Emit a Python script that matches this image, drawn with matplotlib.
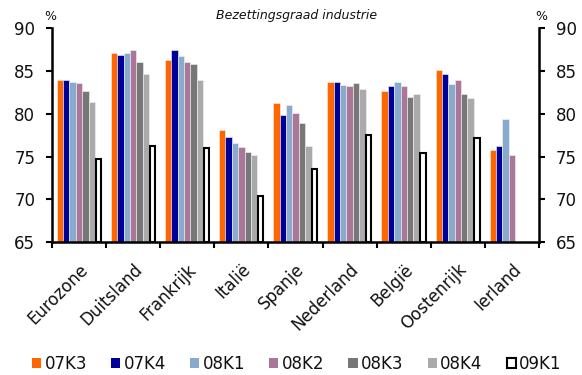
import matplotlib
matplotlib.use("Agg")
import matplotlib.pyplot as plt
import numpy as np
from matplotlib.patches import Patch

plt.rcParams['font.family'] = ['DejaVu Sans']

countries = ["Eurozone", "Duitsland", "Frankrijk", "Italië", "Spanje",
             "Nederland", "België", "Oostenrijk", "Ierland"]
periods = ["07K3", "07K4", "08K1", "08K2", "08K3", "08K4", "09K1"]

s_07k3 = [84.0, 87.1, 86.3, 78.1, 81.3, 83.7, 82.7, 85.1, 75.8]
s_07k4 = [83.9, 86.9, 87.5, 77.3, 79.9, 83.7, 83.3, 84.7, 76.3]
s_08k1 = [83.7, 87.1, 86.7, 76.6, 81.0, 83.4, 83.7, 83.5, 79.4]
s_08k2 = [83.6, 87.5, 86.1, 76.1, 80.1, 83.3, 83.3, 84.0, 75.2]
s_08k3 = [82.7, 86.1, 85.8, 75.5, 78.9, 83.6, 82.0, 82.3, np.nan]
s_08k4 = [81.4, 84.7, 84.0, 75.2, 76.3, 82.9, 82.3, 81.8, np.nan]
s_09k1 = [74.7, 76.2, 76.0, 70.4, 73.5, 77.5, 75.4, 77.2, np.nan]

series = [s_07k3, s_07k4, s_08k1, s_08k2, s_08k3, s_08k4, s_09k1]
colors = ["#FF6600", "#000099", "#88AACC", "#AA7799", "#777777", "#AAAAAA", "white"]
text_color = "#111111"

fig = plt.figure(figsize=(5.82, 3.75), dpi=100)
ax = fig.add_axes([0.0893, 0.354, 0.837, 0.5707])

n = len(series)
bw = 0.118
x = np.arange(len(countries))
base = 65
for i, (vals, col) in enumerate(zip(series, colors)):
    pos = x + (i - (n - 1) / 2) * bw
    v = np.array(vals, dtype=float)
    ok = ~np.isnan(v)
    if col == "white":
        ax.bar(pos[ok], v[ok] - base, bw * 0.82, bottom=base, color="white",
               edgecolor="black", linewidth=1.5, zorder=2)
    else:
        ax.bar(pos[ok], v[ok] - base, bw, bottom=base, color=col,
               edgecolor="#f4f4f4", linewidth=0.4, zorder=2)

ax.set_xlim(-0.5, len(countries) - 0.5)
ax.set_ylim(65, 90)
ax.set_yticks([65, 70, 75, 80, 85, 90])

# category separators as ticks on the x axis
ax.set_xticks(np.arange(len(countries) + 1) - 0.5, minor=False)
ax.set_xticklabels([])
ax.set_xticks(x, minor=True)
ax.set_xticklabels(countries, minor=True, rotation=45, ha="right",
                   rotation_mode="anchor", fontsize=12, color=text_color)
ax.tick_params(axis="x", which="minor", length=0, pad=13)
ax.tick_params(axis="x", which="major", direction="out", length=4, width=1.5)
ax.tick_params(axis="y", direction="out", length=4, width=1.5, labelsize=12,
               labelcolor=text_color,
               left=True, right=True, labelleft=True, labelright=True, pad=8)

for side in ["left", "right", "bottom"]:
    ax.spines[side].set_linewidth(1.8)
    ax.spines[side].set_zorder(3)
ax.spines["top"].set_visible(False)

fig.text(50 / 582, 1 - 16.5 / 375, "%", fontsize=9, ha="center", va="center",
         color=text_color)
fig.text(541 / 582, 1 - 16.5 / 375, "%", fontsize=9, ha="center", va="center",
         color=text_color)
fig.text(297 / 582, 1 - 16 / 375, "Bezettingsgraad industrie", fontsize=9,
         style="italic", ha="center", va="center", color=text_color)

handles = []
for p, col in zip(periods, colors):
    if col == "white":
        handles.append(Patch(facecolor="white", edgecolor="black", linewidth=1.5, label=p))
    else:
        handles.append(Patch(facecolor=col, edgecolor="none", label=p))
leg = fig.legend(handles=handles, loc="center", bbox_to_anchor=(0.51, 1 - 364 / 375),
                 ncol=7, frameon=False, fontsize=12, handlelength=0.55,
                 handleheight=0.55, handletextpad=0.2, columnspacing=1.45,
                 borderaxespad=0, borderpad=0)
for t in leg.get_texts():
    t.set_color(text_color)

fig.savefig("out.png", dpi=100)
